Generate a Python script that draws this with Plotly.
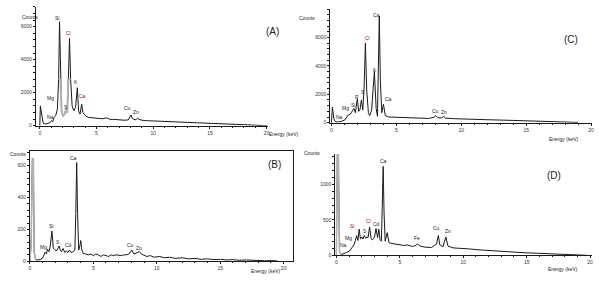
import plotly.graph_objects as go

# ---------------- data ----------------
energy_A = [0, 0.05, 0.12, 0.2, 0.3, 0.5, 0.7, 0.9, 1.04, 1.15, 1.25, 1.4, 1.55, 1.66, 1.74, 1.82, 1.92,
            2.05, 2.2, 2.31, 2.42, 2.52, 2.62, 2.72, 2.85, 3.0, 3.15, 3.31, 3.42, 3.55, 3.69, 3.8, 4.01,
            4.3, 5.0, 5.5, 5.9, 6.2, 6.5, 7.0, 7.5, 7.8, 7.95, 8.04, 8.15, 8.4, 8.55, 8.63, 8.75, 9.0,
            9.5, 10, 11, 12, 13, 14, 15, 16, 17, 18, 19, 19.7, 20]
counts_A = [0, 1200, 900, 400, 150, 100, 120, 180, 300, 250, 500, 600, 1000, 2800, 6300, 2800, 900,
            600, 700, 1000, 800, 2800, 5300, 2800, 1200, 900, 1100, 2300, 900, 700, 1300, 800, 600,
            500, 450, 420, 470, 380, 380, 350, 330, 350, 550, 650, 450, 350, 400, 450, 380, 330,
            300, 280, 250, 220, 200, 170, 150, 120, 90, 60, 30, 0, 0]

energy_B = [0, 0.1, 0.2, 0.28, 0.34, 0.45, 0.6, 0.8, 1.0, 1.1, 1.2, 1.3, 1.4, 1.5, 1.6, 1.74, 1.85, 1.95,
            2.05, 2.15, 2.3, 2.4, 2.5, 2.62, 2.75, 2.9, 3.0, 3.13, 3.25, 3.4, 3.55, 3.62, 3.69, 3.76, 3.85,
            3.95, 4.01, 4.1, 4.2, 4.4, 4.6, 4.8, 5.0, 5.2, 5.4, 5.6, 5.8, 6.0, 6.2, 6.4, 6.6, 6.8, 7.0,
            7.2, 7.4, 7.6, 7.8, 8.04, 8.2, 8.4, 8.63, 8.8, 9.0, 9.2, 9.5, 9.8, 10.2, 10.6, 11, 11.5, 12,
            12.5, 13, 13.5, 14, 14.5, 15, 15.5, 16, 16.5, 17, 17.5, 18, 18.5, 19, 19.5]
counts_B = [0, 100, 645, 645, 60, 10, 8, 10, 20, 40, 55, 45, 75, 60, 90, 190, 80, 75,
            65, 70, 95, 70, 60, 80, 55, 65, 55, 70, 55, 60, 70, 300, 620, 300, 70,
            100, 130, 70, 50, 45, 40, 45, 35, 45, 40, 30, 40, 35, 30, 40, 35, 40, 38,
            35, 40, 40, 45, 70, 45, 50, 60, 45, 35, 30, 35, 25, 30, 22, 25, 18, 22,
            15, 18, 12, 15, 10, 12, 8, 10, 6, 8, 5, 6, 3, 4, 2]

energy_C = [0, 0.08, 0.18, 0.3, 0.5, 0.8, 1.04, 1.2, 1.3, 1.45, 1.6, 1.74, 1.85, 2.0, 2.1, 2.2, 2.31,
            2.42, 2.52, 2.62, 2.72, 2.85, 2.95, 3.1, 3.31, 3.45, 3.55, 3.62, 3.69, 3.77, 3.88, 4.01,
            4.15, 4.4, 5.0, 6.0, 6.5, 7.0, 7.5, 7.9, 8.04, 8.2, 8.5, 8.63, 8.8, 9.5, 10, 12, 14,
            16, 18, 19]
counts_C = [0, 1100, 300, 80, 50, 100, 200, 450, 550, 600, 800, 1000, 700, 1700, 800, 900, 1600,
            900, 2500, 5600, 2300, 700, 500, 900, 3600, 1000, 450, 3000, 7500, 3000, 700, 1300,
            500, 400, 380, 350, 330, 300, 300, 380, 500, 350, 330, 450, 320, 280, 260, 210, 160,
            100, 50, 20]

energy_D = [0, 0.08, 0.16, 0.2, 0.25, 0.4, 0.6, 0.8, 1.04, 1.25, 1.4, 1.5, 1.6, 1.7, 1.8, 1.9, 2.0,
            2.1, 2.2, 2.31, 2.4, 2.5, 2.62, 2.75, 2.85, 3.0, 3.13, 3.25, 3.35, 3.45, 3.55, 3.62, 3.69,
            3.76, 3.85, 4.01, 4.15, 4.3, 4.6, 5.0, 5.3, 5.6, 6.0, 6.2, 6.4, 6.6, 7.0, 7.5, 7.9, 8.04,
            8.15, 8.4, 8.63, 8.8, 9.2, 9.6, 10, 10.5, 11, 12, 13, 14, 15, 16, 17, 18, 19, 19.7]
counts_D = [0, 1430, 1430, 600, 50, 10, 20, 40, 60, 110, 150, 210, 280, 210, 370, 230, 260,
            230, 280, 240, 260, 250, 400, 230, 220, 250, 380, 250, 370, 220, 200, 700, 1260,
            600, 200, 320, 180, 170, 160, 150, 140, 145, 125, 135, 160, 130, 115, 110, 160, 280,
            150, 120, 260, 130, 105, 100, 100, 90, 80, 65, 55, 45, 35, 25, 18, 10, 5, 0]

# element labels: (text, energy, counts, red?)
labels_A = [("Si", 1.55, 6550, 0), ("Cl", 2.5, 5600, 1), ("K", 3.15, 2650, 0), ("Ca", 3.75, 1800, 1),
            ("Mg", 0.95, 1700, 0), ("Na", 0.9, 550, 0), ("S", 2.35, 1150, 0), ("Cu", 7.7, 1100, 0),
            ("Zn", 8.5, 850, 0)]
labels_B = [("Ca", 3.45, 650, 0), ("Si", 1.7, 220, 0), ("Mg", 1.1, 90, 0), ("S", 2.25, 120, 0),
            ("Cd", 3.05, 100, 0), ("Cu", 7.9, 100, 0), ("Zn", 8.6, 80, 0)]
labels_C = [("Ca", 3.45, 7550, 0), ("Cl", 2.76, 5950, 1), ("K", 3.37, 3700, 0), ("Ca", 4.37, 1700, 0),
            ("S", 2.4, 2180, 0), ("P", 2.0, 1800, 0), ("Si", 1.7, 1250, 0), ("Mg", 1.07, 1050, 0),
            ("Na", 0.6, 420, 0), ("Cu", 8.0, 850, 0), ("Zn", 8.7, 780, 0)]
labels_D = [("Ca", 3.7, 1340, 0), ("Si", 1.25, 420, 1), ("Cl", 2.5, 480, 1), ("S", 2.25, 350, 0),
            ("Cd", 3.15, 450, 0), ("Mg", 0.95, 240, 0), ("Na", 0.55, 150, 0), ("Fe", 6.35, 250, 0),
            ("Cu", 7.9, 380, 0), ("Zn", 8.8, 340, 0)]

x_ticks = [0, 5, 10, 15, 20]
y_ticks_A = [0, 2000, 4000, 6000]
y_ticks_B = [0, 200, 400, 600]
y_ticks_C = [0, 2000, 4000, 6000]
y_ticks_D = [0, 500, 1000]

# ---------------- layout helpers ----------------
W, H = 599, 285
LINE = "#1a1a1a"
GREY = "#b0b0b0"


def dom_x(a, b):
    return [a / W, b / W]


def dom_y(top, bottom):
    return [(H - bottom) / H, (H - top) / H]


fig = go.Figure()

panels = [
    dict(n="", E=energy_A, C=counts_A, xd=(35, 268), yd=(7, 127), xr=[-0.35, 20.09], yr=[0, 7200],
         yt=y_ticks_A, ym=400, mirror=False, lab=labels_A, tag="(A)", tagpos=(273, 24)),
    dict(n="2", E=energy_B, C=counts_B, xd=(29, 293), yd=(153, 264), xr=[0, 20.7], yr=[0, 690],
         yt=y_ticks_B, ym=40, mirror=True, lab=labels_B, tag="(B)", tagpos=(275, 166)),
    dict(n="3", E=energy_C, C=counts_C, xd=(331, 594), yd=(9, 124), xr=[-0.08, 20.07], yr=[0, 8010],
         yt=y_ticks_C, ym=400, mirror=False, lab=labels_C, tag="(C)", tagpos=(582, 32)),
    dict(n="4", E=energy_D, C=counts_D, xd=(336, 594), yd=(156, 258), xr=[-0.08, 20.15], yr=[0, 1430],
         yt=y_ticks_D, ym=100, mirror=False, lab=labels_D, tag="(D)", tagpos=(565, 177)),
]

annotations = []
for p in panels:
    xa = "x" + p["n"]
    ya = "y" + p["n"]
    fig.add_trace(go.Scatter(x=p["E"], y=p["C"], mode="lines", xaxis=xa, yaxis=ya,
                             line=dict(color=LINE, width=1), showlegend=False, hoverinfo="skip"))
    common = dict(showgrid=False, zeroline=False, showline=True, linecolor=LINE, linewidth=1,
                  ticks="outside", ticklen=2, tickwidth=1, tickcolor=LINE,
                  tickfont=dict(size=5, color="#333", family="Arial"), mirror=p["mirror"])
    fig.layout["xaxis" + p["n"]] = dict(domain=dom_x(*p["xd"]), range=p["xr"], tickvals=x_ticks,
                                        anchor=ya, minor=dict(dtick=1, ticks="outside", ticklen=1,
                                                              tickcolor=LINE),
                                        **common)
    fig.layout["yaxis" + p["n"]] = dict(domain=dom_y(*p["yd"]), range=p["yr"], tickvals=p["yt"],
                                        anchor=xa, minor=dict(dtick=p["ym"], ticks="outside",
                                                              ticklen=2, tickcolor=LINE),
                                        **common)
    for (t, e, c, red) in p["lab"]:
        annotations.append(dict(x=e, y=c, xref=xa, yref=ya, text=t, showarrow=False,
                                font=dict(size=5, color="#c00000" if red else "#222", family="Arial")))
    annotations.append(dict(x=p["tagpos"][0] / W, y=1 - p["tagpos"][1] / H, xref="paper", yref="paper",
                            text=p["tag"], showarrow=False, font=dict(size=10, color="#222", family="Arial")))

# grey portions (lower parts of large / saturated peaks drawn in grey in the original)
capA = 2800
greyA_E = [e for e in energy_A if 1.6 <= e <= 2.8]
greyA_C = [min(c, capA) for e, c in zip(energy_A, counts_A) if 1.6 <= e <= 2.8]
fig.add_trace(go.Scatter(x=greyA_E, y=greyA_C, mode="lines", line=dict(color=GREY, width=2),
                         showlegend=False, hoverinfo="skip"))
fig.add_trace(go.Scatter(x=energy_B[:6], y=counts_B[:6], mode="lines", xaxis="x2", yaxis="y2",
                         line=dict(color=GREY, width=1.5), showlegend=False, hoverinfo="skip"))
fig.add_trace(go.Scatter(x=energy_D[:6], y=counts_D[:6], mode="lines", xaxis="x4", yaxis="y4",
                         line=dict(color=GREY, width=1.5), showlegend=False, hoverinfo="skip"))

# axis titles as small text
small = dict(size=5, color="#222", family="Arial")
for (t, x, y) in [("Counts", 19, 12), ("Energy (keV)", 284, 135), ("Counts", 7, 156),
                  ("Energy (keV)", 266, 279), ("Counts", 308, 13), ("Energy (keV)", 583, 140),
                  ("Counts", 313, 155), ("Energy (keV)", 582, 277)]:
    annotations.append(dict(x=x / W, y=1 - y / H, xref="paper", yref="paper", text=t,
                            showarrow=False, font=small))

fig.update_layout(width=W, height=H, margin=dict(l=0, r=0, t=0, b=0),
                  paper_bgcolor="white", plot_bgcolor="white", annotations=annotations,
                  showlegend=False)

fig.write_html("out.html", config={"displayModeBar": False},
               post_script="document.body.style.margin='0';")
